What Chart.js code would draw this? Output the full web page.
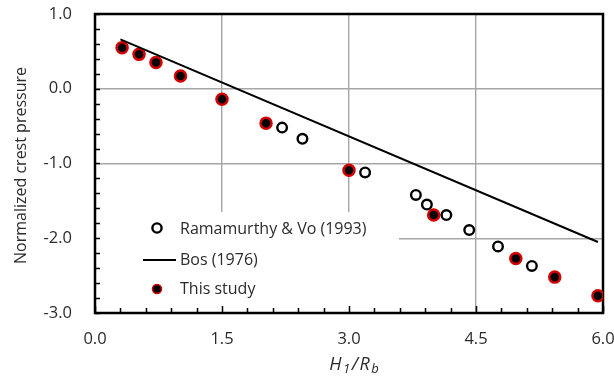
<!DOCTYPE html>
<html>
<head>
<meta charset="utf-8">
<script src="https://cdn.jsdelivr.net/npm/chart.js@4/dist/chart.umd.min.js"></script>
<style>
  html, body { margin: 0; padding: 0; background: #fff; }
  #wrap { width: 614px; height: 379px; }
</style>
</head>
<body>
<div id="wrap"><canvas id="chart" width="614" height="379"></canvas></div>
<script>
// values
const studyX = [0.32, 0.52, 0.72, 1.01, 1.50, 2.02, 3.00, 4.00, 4.97, 5.43, 5.94];
const studyY = [0.55, 0.46, 0.35, 0.17, -0.14, -0.46, -1.09, -1.69, -2.27, -2.52, -2.77];

const ramX = [2.21, 2.45, 3.19, 3.79, 3.92, 4.15, 4.42, 4.76, 5.16];
const ramY = [-0.52, -0.67, -1.12, -1.42, -1.55, -1.69, -1.89, -2.11, -2.37];

const bosX = [0.30, 5.94];
const bosY = [0.66, -2.05];

const xTicks = [0, 1.5, 3.0, 4.5, 6.0];
const yTicks = [-3, -2, -1, 0, 1];

const FONT = "'Open Sans', Lato, sans-serif";
const TXT = "#2b2b2b";

const pts = (xs, ys) => xs.map((x, i) => ({ x: x, y: ys[i] }));

const noPad = s => { s.paddingLeft = s.paddingRight = s.paddingTop = s.paddingBottom = 0; };

// frame, minor ticks, legend box and axis titles
const extras = {
  id: "extras",
  beforeDatasetsDraw(chart) {
    const { ctx, chartArea: a, scales: { x, y } } = chart;
    ctx.save();
    // legend box hides the grid behind it
    ctx.fillStyle = "#fff";
    ctx.fillRect(a.left + 1, 212, 398 - a.left, a.bottom - 213);

    // minor ticks, pointing inward
    ctx.strokeStyle = "#000";
    ctx.lineWidth = 1.5;
    ctx.beginPath();
    for (let v = -3; v <= 1.001; v += 0.2) {
      const py = Math.round(y.getPixelForValue(v)) + 0.5;
      ctx.moveTo(a.left, py);
      ctx.lineTo(a.left + 5, py);
    }
    for (let v = 0; v <= 6.001; v += 0.3) {
      const px = Math.round(x.getPixelForValue(v)) + 0.5;
      const len = Math.abs(v / 1.5 - Math.round(v / 1.5)) < 0.01 ? 7 : 5;
      ctx.moveTo(px, a.bottom);
      ctx.lineTo(px, a.bottom - len);
    }
    ctx.stroke();

    // full frame
    ctx.lineWidth = 2.5;
    ctx.strokeRect(a.left, a.top, a.right - a.left, a.bottom - a.top);
    ctx.restore();
  },
  afterDatasetsDraw(chart) {
    const { ctx, chartArea: a } = chart;
    ctx.save();
    ctx.font = "16px " + FONT;
    ctx.fillStyle = TXT;
    ctx.textBaseline = "middle";
    ctx.textAlign = "left";

    // open circle entry
    ctx.beginPath();
    ctx.arc(157, 228, 4.6, 0, Math.PI * 2);
    ctx.fillStyle = "#fff";
    ctx.fill();
    ctx.lineWidth = 2.4;
    ctx.strokeStyle = "#000";
    ctx.stroke();
    ctx.fillStyle = TXT;
    ctx.fillText("Ramamurthy & Vo (1993)", 180, 229);

    // line entry
    ctx.beginPath();
    ctx.moveTo(143, 260);
    ctx.lineTo(176, 260);
    ctx.lineWidth = 2;
    ctx.strokeStyle = "#000";
    ctx.stroke();
    ctx.fillText("Bos (1976)", 180, 260);

    // filled entry
    ctx.beginPath();
    ctx.arc(157, 289, 4.5, 0, Math.PI * 2);
    ctx.fillStyle = "#000";
    ctx.fill();
    ctx.lineWidth = 1.5;
    ctx.strokeStyle = "#d00000";
    ctx.stroke();
    ctx.fillStyle = TXT;
    ctx.fillText("This study", 180, 289);

    // y axis title
    ctx.save();
    ctx.translate(26, (a.top + a.bottom) / 2 + 2);
    ctx.rotate(-Math.PI / 2);
    ctx.font = "16px " + FONT;
    ctx.textAlign = "center";
    ctx.textBaseline = "alphabetic";
    ctx.fillText("Normalized crest pressure", 0, 0);
    ctx.restore();

    // x axis title H1/Rb
    const parts = [
      ["H", "italic 18px " + FONT, 0],
      ["1", "italic 13px " + FONT, 3],
      ["/", "italic 18px " + FONT, 0],
      ["R", "italic 18px " + FONT, 0],
      ["b", "italic 13px " + FONT, 3]
    ];
    const gap = 1.5;
    ctx.textAlign = "left";
    ctx.textBaseline = "alphabetic";
    let w = 0;
    parts.forEach(p => { ctx.font = p[1]; w += ctx.measureText(p[0]).width + gap; });
    let cx = 354 - (w - gap) / 2;
    parts.forEach(p => {
      ctx.font = p[1];
      ctx.fillText(p[0], cx, 370 + p[2]);
      cx += ctx.measureText(p[0]).width + gap;
    });
    ctx.restore();
  }
};

new Chart(document.getElementById("chart"), {
  type: "scatter",
  data: {
    datasets: [
      {
        label: "Bos (1976)",
        data: pts(bosX, bosY),
        showLine: true,
        borderColor: "#000",
        borderWidth: 2,
        pointRadius: 0
      },
      {
        label: "Ramamurthy & Vo (1993)",
        data: pts(ramX, ramY),
        pointRadius: 4.8,
        pointBorderWidth: 2.4,
        backgroundColor: "#fff",
        borderColor: "#000"
      },
      {
        label: "This study",
        data: pts(studyX, studyY),
        pointRadius: 5.5,
        pointBorderWidth: 2.5,
        backgroundColor: "#000",
        borderColor: "#d40000"
      }
    ]
  },
  options: {
    responsive: false,
    animation: false,
    devicePixelRatio: 1,
    layout: { padding: { left: 0, right: 11, top: 14, bottom: 0 } },
    plugins: {
      legend: { display: false },
      tooltip: { enabled: false }
    },
    scales: {
      x: {
        type: "linear",
        min: 0,
        max: 6,
        afterBuildTicks: s => { s.ticks = xTicks.map(v => ({ value: v })); },
        afterFit: s => { s.height = 66; noPad(s); },
        ticks: {
          callback: v => v.toFixed(1),
          font: { size: 16.5, family: FONT },
          color: TXT,
          padding: 16,
          maxRotation: 0
        },
        grid: { color: "#a6a6a6", lineWidth: 1.4, drawTicks: false },
        border: { display: false }
      },
      y: {
        type: "linear",
        min: -3,
        max: 1,
        afterBuildTicks: s => { s.ticks = yTicks.map(v => ({ value: v })); },
        afterFit: s => { s.width = 95; noPad(s); },
        ticks: {
          callback: v => v.toFixed(1),
          font: { size: 16.5, family: FONT },
          color: TXT,
          padding: 23
        },
        grid: { color: "#a6a6a6", lineWidth: 1.4, drawTicks: false },
        border: { display: false }
      }
    }
  },
  plugins: [extras]
});
</script>
</body>
</html>
